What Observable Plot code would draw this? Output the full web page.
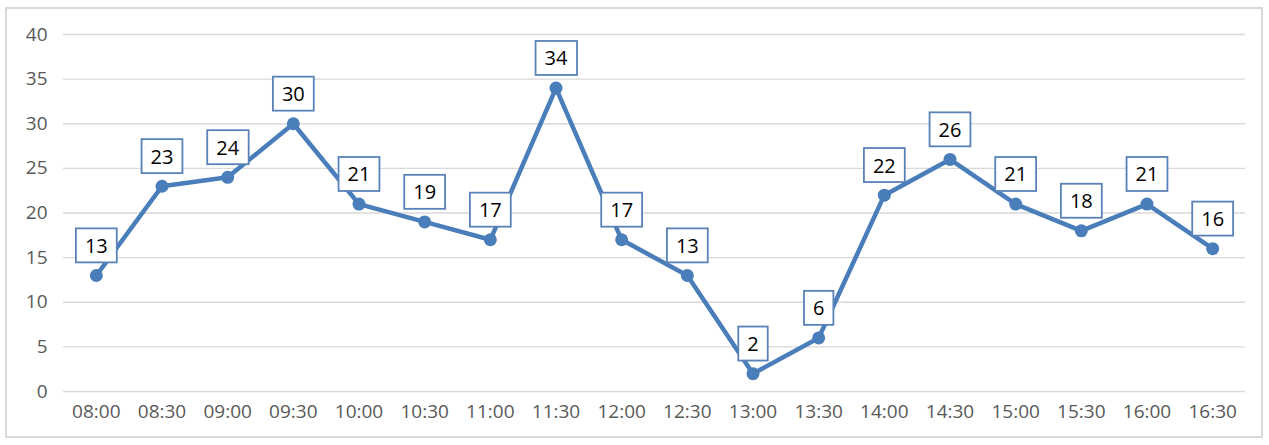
<!DOCTYPE html>
<html>
<head>
<meta charset="utf-8">
<script src="https://cdn.jsdelivr.net/npm/d3@7"></script>
<script src="https://cdn.jsdelivr.net/npm/@observablehq/plot@0.6"></script>
<style>
  html, body { margin: 0; padding: 0; background: #fff; }
  #wrap { position: relative; width: 1269px; height: 445px; overflow: hidden; }
  #frame { position: absolute; left: 5px; top: 7px; width: 1258px; height: 431px; border: 2px solid #d9d9d9; box-sizing: border-box; pointer-events: none; }
</style>
</head>
<body>
<div id="wrap"><div id="frame"></div></div>
<script>
const times = ["08:00","08:30","09:00","09:30","10:00","10:30","11:00","11:30","12:00","12:30","13:00","13:30","14:00","14:30","15:00","15:30","16:00","16:30"];
const values = [13,23,24,30,21,19,17,34,17,13,2,6,22,26,21,18,21,16];
const yTicks = [0,5,10,15,20,25,30,35,40];

const data = times.map((t, i) => ({time: t, value: values[i]}));
const blue = "#4a7ebb";

const chart = Plot.plot({
  width: 1269,
  height: 445,
  marginLeft: 63,
  marginRight: 24,
  marginTop: 34,
  marginBottom: 54,
  style: {fontFamily: "'Open Sans', sans-serif", fontSize: "19px", color: "#595959", background: "transparent"},
  x: {type: "point", domain: times, padding: 0.5, round: false, label: null, tickSize: 0, tickPadding: 13},
  y: {domain: [0, 40], ticks: yTicks, label: null, tickSize: 0, tickPadding: 16},
  marks: [
    Plot.gridY(yTicks, {stroke: "#d9d9d9", strokeOpacity: 1, strokeWidth: 1.3}),
    Plot.line(data, {x: "time", y: "value", stroke: blue, strokeWidth: 4.5, strokeLinejoin: "round"}),
    Plot.dot(data, {x: "time", y: "value", r: 6.5, fill: blue}),
    Plot.text(data, {x: "time", y: "value", text: d => String(d.value), dy: -29, fill: "#000", fontSize: 20})
  ]
});
document.getElementById("wrap").appendChild(chart);

// draw boxes behind labels (inside the text group, so they share its dy transform)
const g = chart.querySelector('g[aria-label="text"]');
if (g) {
  const texts = Array.from(g.querySelectorAll("text"));
  texts.forEach(t => {
    const b = t.getBBox();
    const tr = t.getAttribute("transform");
    const r = document.createElementNS("http://www.w3.org/2000/svg", "rect");
    const padX = 9, padY = 4.5;
    r.setAttribute("x", b.x - padX);
    r.setAttribute("y", b.y - padY + 1);
    r.setAttribute("width", b.width + 2 * padX);
    r.setAttribute("height", b.height + 2 * padY - 2);
    r.setAttribute("fill", "#fff");
    r.setAttribute("stroke", "#5a82b8");
    r.setAttribute("stroke-width", 1.8);
    if (tr) r.setAttribute("transform", tr);
    g.insertBefore(r, g.firstChild);
  });
}
</script>
</body>
</html>
